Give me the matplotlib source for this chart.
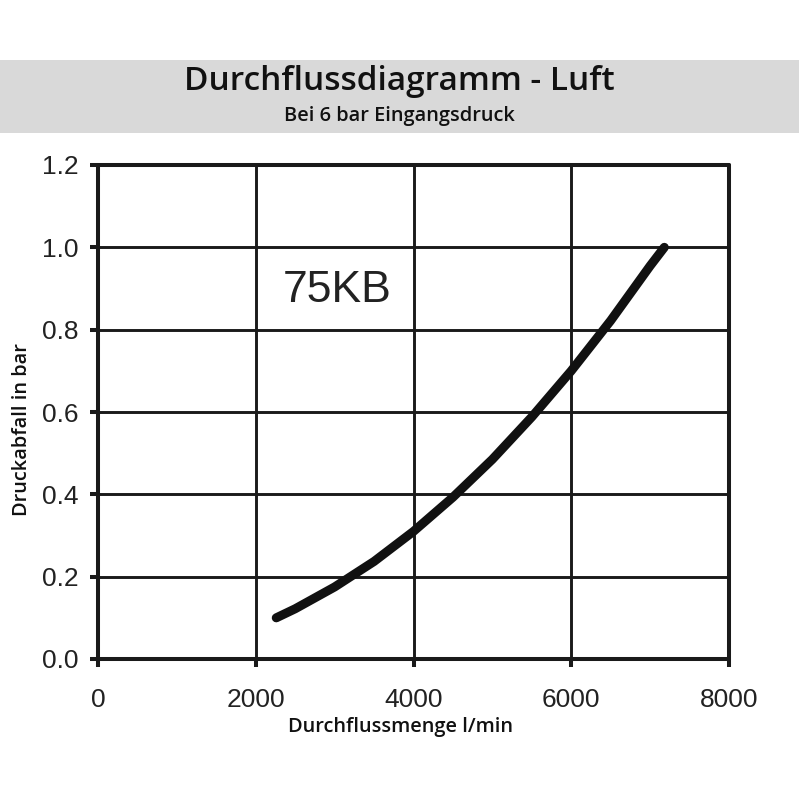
import matplotlib.pyplot as plt
from matplotlib.patches import Rectangle

# Durchflusskurve 75KB
flow = [2260, 2500, 3000, 3500, 4000, 4500, 5000, 5500, 6000, 6500, 7000, 7180]
drop = [0.10, 0.122, 0.175, 0.237, 0.31, 0.393, 0.485, 0.588, 0.70, 0.822, 0.955, 1.00]

x_ticks = [0, 2000, 4000, 6000, 8000]
y_ticks = [0.0, 0.2, 0.4, 0.6, 0.8, 1.0, 1.2]

fig = plt.figure(figsize=(7.99, 8.0), dpi=100)

# grauer Kopfbalken
fig.patches.append(Rectangle((0, 1 - 133 / 800), 1, 73 / 800, transform=fig.transFigure,
                             facecolor='#d9d9d9', edgecolor='none', zorder=0))
fig.text(0.5, 1 - 81 / 800, 'Durchflussdiagramm - Luft', ha='center', va='center',
         family='Open Sans', fontweight='semibold', fontsize=24, color='#111111')
fig.text(0.5, 1 - 116 / 800, 'Bei 6 bar Eingangsdruck', ha='center', va='center',
         family='Open Sans', fontweight='semibold', fontsize=14.4, color='#111111')

ax = fig.add_axes([98 / 799, 141 / 800, 631 / 799, 494 / 800])
ax.plot(flow, drop, color='#111111', linewidth=6.5, solid_capstyle='round',
        solid_joinstyle='round', zorder=3)

ax.set_xlim(0, 8000)
ax.set_ylim(0, 1.2)
ax.set_xticks(x_ticks)
ax.set_yticks(y_ticks)
ax.set_yticklabels(['%.1f' % v for v in y_ticks])
ax.grid(True, color='#1a1a1a', linewidth=2.1)
ax.set_axisbelow(True)

for s in ax.spines.values():
    s.set_linewidth(2.9)
    s.set_color('#1a1a1a')
    s.set_capstyle('round')

ax.tick_params(direction='out', length=6, width=2.9, color='#1a1a1a',
               labelsize=19, labelcolor='#222222', pad=8)
ax.tick_params(axis='x', pad=15)
for t in ax.get_xticklabels() + ax.get_yticklabels():
    t.set_family('Liberation Sans')
for line in ax.xaxis.get_ticklines() + ax.yaxis.get_ticklines():
    line.set_solid_capstyle('round')

ax.text(2345, 0.895, '75KB', ha='left', va='center', family='Liberation Sans',
        fontsize=32, color='#222222')

fig.text(401 / 799, 1 - 727 / 800, 'Durchflussmenge l/min', ha='center', va='center',
         family='Open Sans', fontweight='semibold', fontsize=14.4, color='#111111')
fig.text(22 / 799, 1 - 430 / 800, 'Druckabfall in bar', ha='center', va='center',
         rotation=90, family='Open Sans', fontweight='semibold', fontsize=14.4,
         color='#111111')

fig.savefig('out.png', dpi=100)
